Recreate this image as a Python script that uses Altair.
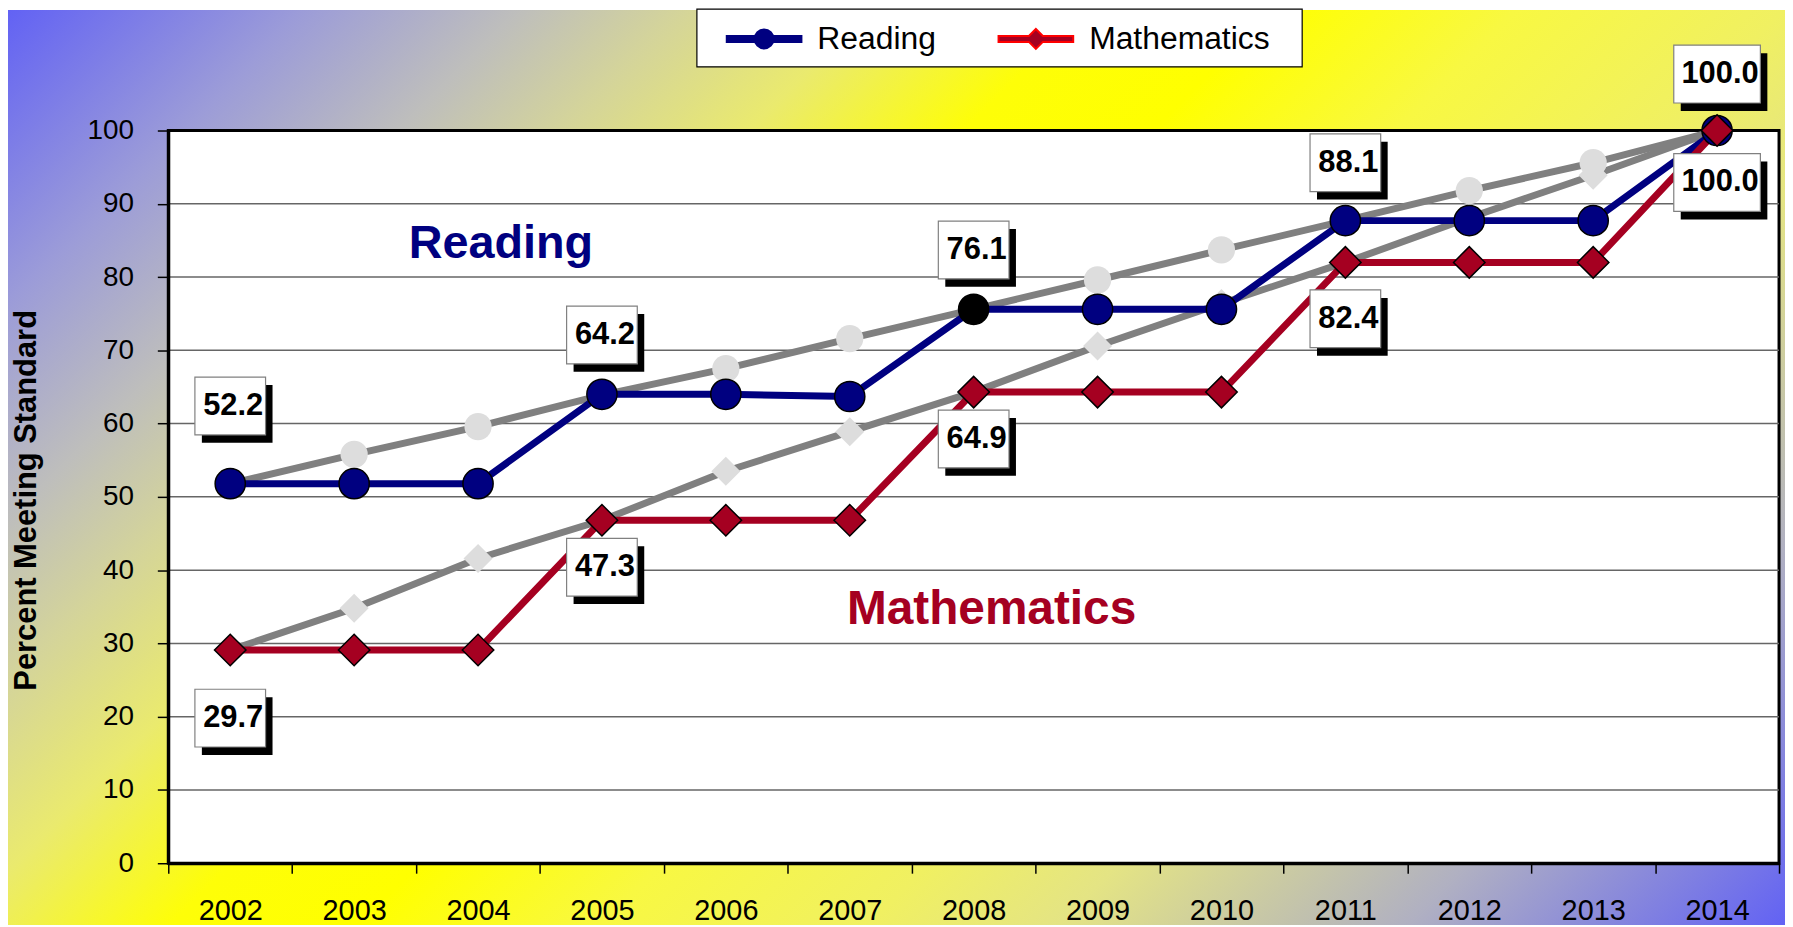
import altair as alt
import pandas as pd

# ---------------- data ----------------
years = [2002, 2003, 2004, 2005, 2006, 2007, 2008, 2009, 2010, 2011, 2012, 2013, 2014]
series_names = ["Reading", "Mathematics"]
reading = [51.8, 51.8, 51.8, 64.0, 64.0, 63.7, 75.6, 75.6, 75.6, 87.7, 87.7, 87.7, 100.0]
mathematics = [29.1, 29.1, 29.1, 46.8, 46.8, 46.8, 64.3, 64.3, 64.3, 82.0, 82.0, 82.0, 100.0]
reading_target = [51.8, 55.8, 59.6, 63.9, 67.5, 71.6, 75.6, 79.6, 83.7, 87.7, 91.8, 95.6, 100.0]
math_target = [29.1, 34.8, 41.6, 46.8, 53.5, 58.9, 64.3, 70.6, 76.4, 82.0, 88.1, 93.9, 100.0]

label_text = ["52.2", "64.2", "76.1", "88.1", "100.0", "29.7", "47.3", "64.9", "82.4", "100.0"]
label_year = [2002, 2005, 2008, 2011, 2014, 2002, 2005, 2008, 2011, 2014]
label_value = [62.4, 72.1, 83.7, 95.6, 107.7, 19.8, 40.4, 57.9, 74.3, 92.9]

note_text = ["Reading", "Mathematics"]
note_year = [2004, 2008]
note_value = [82.6, 32.6]

y_ticks = [0, 10, 20, 30, 40, 50, 60, 70, 80, 90, 100]

# ---------------- styles ----------------
FONT = "Liberation Sans"
NAVY = "#000080"
RED = "#A50021"
GRAY = "#808080"
LIGHT = "#DDDDDD"

W, H = 1618, 736
PL, PT, PR, PB = 161, 121, 6, 62
TW, TH = PL + W + PR, PT + H + PB
gx2 = TW * (TW + TH) / (TW ** 2 + TH ** 2)
gy2 = TH * (TW + TH) / (TW ** 2 + TH ** 2)

stops = [
    (0.00, "#6262F4"), (0.11, "#9C9CD8"), (0.19, "#BEBEBC"), (0.25, "#D4D49A"),
    (0.32, "#EAEA6E"), (0.40, "#FEFE08"), (0.47, "#FFFF00"), (0.56, "#F8F842"),
    (0.66, "#F0F062"), (0.73, "#E4E484"), (0.86, "#B0B0C2"), (1.00, "#6262F4"),
]
gradient = alt.LinearGradient(
    gradient="linear",
    stops=[alt.GradientStop(offset=o, color=c) for o, c in stops],
    x1=0, y1=0, x2=gx2, y2=gy2,
)

BOX_N = "M-1.183,-0.967L1.183,-0.967L1.183,0.967L-1.183,0.967Z"
BOX_W = "M-1.45,-0.967L1.45,-0.967L1.45,0.967L-1.45,0.967Z"
# legend symbols: line with marker, drawn inside a 90px nominal symbol box
PATH_R = ("M-0.6667,-0.0667L1,-0.0667L1,0.0667L-0.6667,0.0667Z "
          "M0.3778,0A0.2111,0.2111 0 1,1 -0.0444,0A0.2111,0.2111 0 1,1 0.3778,0Z")
PATH_M = ("M-0.6667,-0.0667L0.0111,-0.0667L0.1667,-0.2222L0.3222,-0.0667L1,-0.0667"
          "L1,0.0667L0.3222,0.0667L0.1667,0.2222L0.0111,0.0667L-0.6667,0.0667Z")

LEG_X, LEG_Y = 531, -121

# ---------------- tables ----------------
n = len(years)
main_df = pd.DataFrame({"year": years * 2, "value": reading + mathematics,
                        "series": ["Reading"] * n + ["Mathematics"] * n})
target_df = pd.DataFrame({"year": years * 2, "value": reading_target + math_target,
                          "series": ["Reading"] * n + ["Mathematics"] * n})
labels_df = pd.DataFrame({"year": label_year, "value": label_value, "label": label_text})
notes_df = pd.DataFrame({"year": note_year, "value": note_value, "note": note_text})
grid_df = pd.DataFrame({"value": y_ticks[1:-1]})
legend_df = pd.DataFrame({"series": series_names})
one_df = pd.DataFrame({"k": [0]})

x_scale = alt.Scale(type="band", domain=years, paddingInner=0, paddingOuter=0)
y_scale = alt.Scale(domain=[0, 100], nice=False, zero=True)

x_axis = alt.Axis(title=None, tickBand="extent", labelAngle=0, labelFont=FONT, labelFontSize=29,
                  labelColor="black", labelPadding=47, labelBaseline="alphabetic",
                  tickSize=10, tickColor="black", tickWidth=1.5, domainColor="black",
                  domainWidth=3, grid=False, zindex=1, labelOverlap=False)
y_axis = alt.Axis(title="Percent Meeting Standard", values=y_ticks, grid=False, tickSize=11,
                  tickColor="black", tickWidth=1.5, domainColor="black", domainWidth=3,
                  labelFont=FONT, labelFontSize=28, labelColor="black", labelPadding=24,
                  titleFont=FONT, titleFontSize=31, titleFontWeight="bold", titleColor="black",
                  titleX=-133, titleY=371, titleBaseline="alphabetic", zindex=1)


def X():
    return alt.X("year:O", scale=x_scale, bandPosition=0.5, axis=x_axis)


def Y():
    return alt.Y("value:Q", scale=y_scale, axis=y_axis)


bg = alt.Chart(one_df).mark_rect(fill=gradient).encode(
    x=alt.value(-PL), x2=alt.value(W + PR), y=alt.value(-PT), y2=alt.value(H + PB))
legend_box = alt.Chart(one_df).mark_rect(fill="white", stroke="black", strokeWidth=1.2).encode(
    x=alt.value(LEG_X), x2=alt.value(LEG_X + 608), y=alt.value(LEG_Y - 1), y2=alt.value(LEG_Y + 57))
plot_bg = alt.Chart(one_df).mark_rect(fill="white", stroke="black", strokeWidth=3).encode(
    x=alt.value(0), x2=alt.value(W), y=alt.value(0), y2=alt.value(H))
grid = alt.Chart(grid_df).mark_rule(color="#666666", strokeWidth=1.5).encode(y=Y())

trend_lines = alt.Chart(target_df).mark_line(color=GRAY, strokeWidth=7).encode(
    x=X(), y=Y(), detail="series:N")
trend_r = alt.Chart(target_df).transform_filter(alt.datum.series == "Reading").mark_point(
    shape="circle", filled=True, color=LIGHT, size=750, opacity=1).encode(x=X(), y=Y())
trend_m = alt.Chart(target_df).transform_filter(alt.datum.series == "Mathematics").mark_point(
    shape="diamond", filled=True, color=LIGHT, size=850, opacity=1).encode(x=X(), y=Y())

line_r = alt.Chart(main_df).transform_filter(alt.datum.series == "Reading").mark_line(
    color=NAVY, strokeWidth=7).encode(x=X(), y=Y())
line_m = alt.Chart(main_df).transform_filter(alt.datum.series == "Mathematics").mark_line(
    color=RED, strokeWidth=7).encode(x=X(), y=Y())
pts_r = alt.Chart(main_df).transform_filter(alt.datum.series == "Reading").mark_point(
    shape="circle", filled=True, size=920, stroke="black", strokeWidth=1.5, opacity=1).encode(
    x=X(), y=Y(),
    color=alt.condition(alt.datum.year == 2008, alt.value("black"), alt.value(NAVY)))
pts_m = alt.Chart(main_df).transform_filter(alt.datum.series == "Mathematics").mark_point(
    shape="diamond", filled=True, size=1000, color=RED, stroke="black", strokeWidth=1.5,
    opacity=1).encode(x=X(), y=Y())

box_layers = []
for cond, path in [("length(datum.label) <= 4", BOX_N), ("length(datum.label) > 4", BOX_W)]:
    box_layers.append(alt.Chart(labels_df).transform_filter(cond).mark_point(
        shape=path, filled=True, color="black", size=3600, xOffset=7, yOffset=8,
        opacity=1).encode(x=X(), y=Y()))
    box_layers.append(alt.Chart(labels_df).transform_filter(cond).mark_point(
        shape=path, filled=True, fill="white", stroke="#808080", strokeWidth=1.2, size=3600,
        opacity=1).encode(x=X(), y=Y()))

label_txt = alt.Chart(labels_df).mark_text(
    font=FONT, fontSize=31, fontWeight="bold", color="black", dx=3, align="center",
    baseline="middle").encode(x=X(), y=Y(), text="label:N")

note_r = alt.Chart(notes_df).transform_filter(alt.datum.note == "Reading").mark_text(
    font=FONT, fontSize=47, fontWeight="bold", color=NAVY, dx=23, align="center",
    baseline="alphabetic").encode(x=X(), y=Y(), text="note:N")
note_m = alt.Chart(notes_df).transform_filter(alt.datum.note == "Mathematics").mark_text(
    font=FONT, fontSize=48, fontWeight="bold", color=RED, dx=18, align="center",
    baseline="alphabetic").encode(x=X(), y=Y(), text="note:N")

LEG = alt.Legend(title=None, orient="none", legendX=LEG_X, legendY=LEG_Y, direction="horizontal",
                 padding=14, labelFont=FONT, labelFontSize=32, labelColor="black",
                 labelLimit=400, symbolSize=8100, symbolStrokeWidth=2, symbolOpacity=1,
                 labelOffset=15, columnPadding=46, clipHeight=30, zindex=1)
legend_layer = alt.Chart(legend_df).mark_point(filled=True, opacity=0, size=400).encode(
    color=alt.Color("series:N", scale=alt.Scale(domain=series_names, range=[NAVY, RED]), legend=LEG),
    shape=alt.Shape("series:N", scale=alt.Scale(domain=series_names, range=[PATH_R, PATH_M]), legend=LEG),
    stroke=alt.Stroke("series:N", scale=alt.Scale(domain=series_names, range=[NAVY, "#FF0000"]), legend=LEG),
)

chart = alt.layer(
    bg, legend_box, plot_bg, grid, trend_lines, trend_r, trend_m, line_r, line_m, pts_r, pts_m,
    *box_layers, label_txt, note_r, note_m, legend_layer,
).properties(
    width=W, height=H,
    autosize=alt.AutoSizeParams(type="none"),
    padding={"left": PL, "top": PT, "right": PR, "bottom": PB},
).configure_view(strokeWidth=0)

chart.save("out.html", embed_options={"renderer": "svg", "actions": False})
